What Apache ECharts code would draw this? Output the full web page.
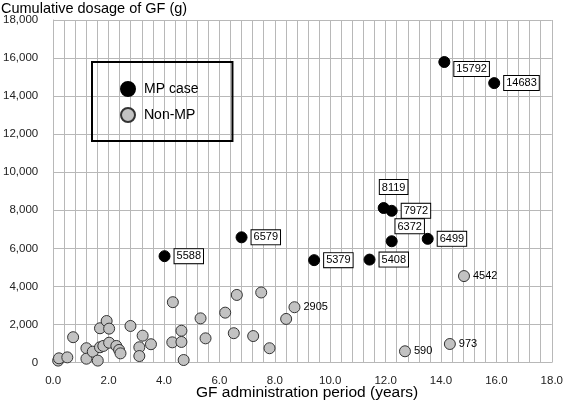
<!DOCTYPE html>
<html>
<head>
<meta charset="utf-8">
<script src="https://cdn.jsdelivr.net/npm/echarts@6/dist/echarts.min.js"></script>
<style>
  html, body { margin: 0; padding: 0; background: #fff; }
  #chart { width: 566px; height: 406px; }
</style>
</head>
<body>
<div id="chart"></div>
<script>
// ---- Data ----
const mpYears = [14.12, 15.92, 11.93, 12.22, 12.22, 13.52, 9.42, 11.42, 4.02, 6.80];
const mpDose  = [15792, 14683, 8119, 7972, 6372, 6499, 5379, 5408, 5588, 6579];

const nonMpYears = [0.18, 0.21, 0.51, 0.72, 1.20, 1.20, 1.43, 1.61, 1.69, 1.93, 2.02, 1.69, 1.81, 2.02, 2.28, 2.38, 2.43, 2.79, 3.23, 3.11, 3.11, 3.53, 4.32, 4.30, 4.63, 4.63, 4.71, 5.32, 5.50, 6.21, 6.63, 6.52, 7.22, 7.51, 7.81, 8.41, 8.71, 14.83, 12.70, 14.32];
const nonMpDose  = [100, 220, 270, 1330, 750, 200, 570, 100, 1800, 2180, 1780, 800, 870, 1040, 870, 660, 480, 1920, 1410, 800, 340, 960, 3170, 1060, 1670, 1080, 130, 2320, 1270, 2620, 3550, 1540, 1390, 3680, 750, 2290, 2905, 4542, 590, 973];
const nonMpLabeled = [2905, 4542, 590, 973];

const xTicks = { min: 0, max: 18, interval: 2 };
const yTicks = { min: 0, max: 18000, interval: 2000 };

const seriesNames = ['MP case', 'Non-MP'];
const xTitle = 'GF administration period (years)';
const yTitle = 'Cumulative dosage of GF (g)';

// ---- label placement (style only) ----
const mpLabelStyle = {
  15792: { position: 'right', offset: [0, 7] },
  8119: { position: 'top', offset: [10, -4] },
  6372: { position: 'top', offset: [18, 2] }
};

const font = 'Liberation Sans, Arial, sans-serif';

const boxLabel = {
  show: true,
  position: 'right',
  distance: 4,
  color: '#000',
  fontSize: 11,
  fontFamily: font,
  backgroundColor: '#fff',
  borderColor: '#000',
  borderWidth: 1,
  padding: [2, 2, 1, 2],
  formatter: p => String(p.value[1])
};

const mpData = mpYears.map((x, i) => {
  const y = mpDose[i];
  const st = mpLabelStyle[y];
  const item = { value: [x, y] };
  if (st) item.label = Object.assign({}, st);
  return item;
});

const nonMpData = nonMpYears.map((x, i) => {
  const y = nonMpDose[i];
  const item = { value: [x, y] };
  if (nonMpLabeled.includes(y)) {
    item.label = {
      show: true, position: 'right', distance: 3, color: '#000', fontSize: 11,
      fontFamily: font,
      formatter: p => String(p.value[1])
    };
  }
  return item;
});

const chart = echarts.init(document.getElementById('chart'), null, { renderer: 'canvas' });
const gridColor = '#b8b8b8';

chart.setOption({
  animation: false,
  backgroundColor: '#fff',
  grid: { left: 49, right: 10, top: 20, bottom: 43.5, containLabel: false },
  legend: {
    orient: 'vertical',
    left: 92, top: 62,
    data: seriesNames,
    borderColor: '#000', borderWidth: 2,
    padding: [19, 34, 18, 28],
    itemWidth: 14, itemHeight: 14, itemGap: 10,
    icon: 'circle',
    textStyle: { fontSize: 14, color: '#000', fontFamily: font, padding: [0, 0, 0, 4] }
  },
  xAxis: {
    type: 'value',
    min: xTicks.min, max: xTicks.max, interval: xTicks.interval,
    axisLine: { show: true, lineStyle: { color: gridColor } },
    axisTick: { show: false },
    minorTick: { show: false, splitNumber: 5 },
    minorSplitLine: { show: true, lineStyle: { color: gridColor, width: 1 } },
    splitLine: { show: true, lineStyle: { color: gridColor, width: 1 } },
    axisLabel: { color: '#222', fontSize: 11.5, fontFamily: font, margin: 12, formatter: v => v.toFixed(1) }
  },
  yAxis: {
    type: 'value',
    min: yTicks.min, max: yTicks.max, interval: yTicks.interval,
    axisLine: { show: true, lineStyle: { color: gridColor } },
    axisTick: { show: false },
    splitLine: { show: true, lineStyle: { color: gridColor, width: 1 } },
    axisLabel: { color: '#222', fontSize: 11.5, fontFamily: font, margin: 15,
      formatter: v => v.toLocaleString('en-US') }
  },
  graphic: [
    { type: 'text', left: 1, top: 1, style: { text: yTitle, fontSize: 14.5, fontFamily: font, fill: '#000' } },
    { type: 'text', left: 196, top: 385, style: { text: xTitle, fontSize: 15.5, fontFamily: font, fill: '#000' } }
  ],
  series: [
    {
      name: seriesNames[1], type: 'scatter', symbolSize: 11, z: 2,
      itemStyle: { color: '#c2c2c2', borderColor: '#333', borderWidth: 1, opacity: 1 },
      data: nonMpData
    },
    {
      name: seriesNames[0], type: 'scatter', symbolSize: 11, z: 3,
      itemStyle: { color: '#000', borderColor: '#000', borderWidth: 1, opacity: 1 },
      label: boxLabel,
      data: mpData
    }
  ]
});
</script>
</body>
</html>
